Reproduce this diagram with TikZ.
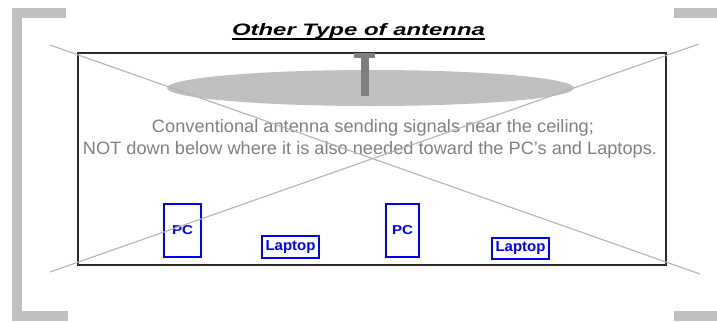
\documentclass[tikz,border=0pt]{standalone}
\usepackage{fontspec}
\setmainfont{Liberation Sans}
\usetikzlibrary{shapes.geometric}
\definecolor{brk}{HTML}{C0C0C0}
\definecolor{crossc}{HTML}{B4B4B4}
\definecolor{txt}{HTML}{808080}
\definecolor{ant}{HTML}{7F7F7F}
\definecolor{ell}{HTML}{C0C0C0}
\definecolor{dev}{HTML}{0000FF}
\definecolor{roomc}{HTML}{2A2A2A}
\begin{document}
\begin{tikzpicture}[x=1pt,y=-1pt,
  bracket/.style={fill=brk},
  room/.style={draw=roomc, line width=2pt, fill=white, inner sep=0pt},
  dish/.style={ellipse, fill=ell, inner sep=0pt},
  antpart/.style={fill=ant, inner sep=0pt},
  bodytext/.style={text=txt, inner sep=0pt, anchor=base},
  devbox/.style={draw=dev, line width=2pt, inner sep=0pt, text=dev, font=\bfseries},
  crossline/.style={draw=crossc, line width=1.1pt}
]
\useasboundingbox (0,0) rectangle (717,322);
% brackets
\fill[bracket] (12,8) rectangle (22,321);
\fill[bracket] (12,8) rectangle (66,18);
\fill[bracket] (12,311) rectangle (68,321);
\fill[bracket] (674,8) rectangle (717,18);
\fill[bracket] (674,311) rectangle (717,321);
% room
\node[room, minimum width=588pt, minimum height=212pt] (room) at (371.5,158.5) {};
% dish
\node[dish, minimum width=407pt, minimum height=36pt] (dish) at (370.5,88) {};
% antenna T
\node[antpart, minimum width=8pt, minimum height=43pt] (stem) at (365,74.5) {};
\node[antpart, minimum width=21pt, minimum height=5pt] (tbar) at (364.5,55.5) {};
% title
\node[inner sep=0pt, anchor=base] (title) at (358.5,35) {\resizebox{253pt}{12pt}{\bfseries\itshape Other Type of antenna}};
\draw[line width=1.5pt] ([yshift=-4pt]title.base west) -- ([yshift=-4pt]title.base east);
% body text
\node[bodytext] (line1) at (373,132) {\resizebox{442pt}{13pt}{Conventional antenna sending signals near the ceiling;}};
\node[bodytext] (line2) at (370,154) {\resizebox{574pt}{13pt}{NOT down below where it is also needed toward the PC's and Laptops.}};
% devices
\node[devbox, minimum width=37pt, minimum height=53pt] (pc1) at (182.5,230.5) {\resizebox{21pt}{9pt}{PC}};
\node[devbox, minimum width=33pt, minimum height=53pt] (pc2) at (402.5,230.5) {\resizebox{21pt}{9pt}{PC}};
\node[devbox, minimum width=57pt, minimum height=22pt] (lap1) at (290.5,247) {\resizebox{50pt}{10pt}{Laptop}};
\node[devbox, minimum width=57pt, minimum height=21.5pt] (lap2) at (520.5,248.5) {\resizebox{50pt}{10pt}{Laptop}};
% cross lines
\coordinate (c1) at (50,45);
\coordinate (c2) at (700,274);
\coordinate (c3) at (50,272);
\coordinate (c4) at (699,44);
\draw[crossline] (c1) -- (c2);
\draw[crossline] (c3) -- (c4);
\end{tikzpicture}
\end{document}
